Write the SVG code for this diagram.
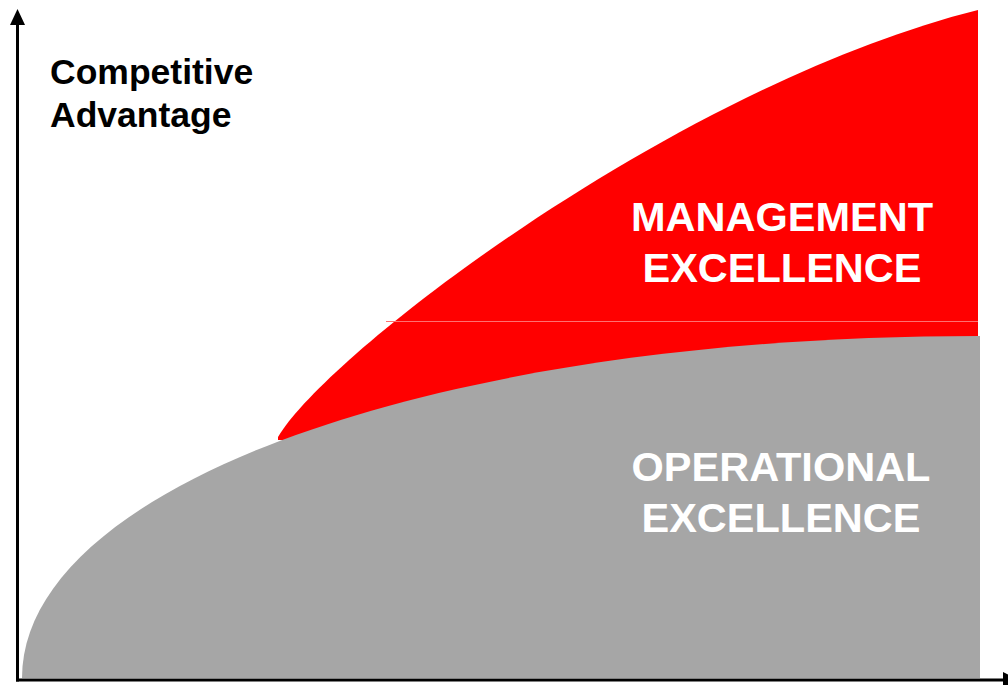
<svg xmlns="http://www.w3.org/2000/svg" width="1008" height="685" viewBox="0 0 1008 685">
<style>
.axis{stroke:#000;stroke-width:3;fill:none}
.lbl{font-family:"Liberation Sans",Arial,sans-serif;font-weight:bold}
.big{font-size:41.5px;fill:#fff;text-anchor:middle}
</style>
<rect width="1008" height="685" fill="#fff"/>
<g id="management">
<path d="M278,437 C328,352 678,85 978,10 L978,440 L278,440 Z" fill="#ff0000"/>
<line x1="386" y1="321.5" x2="978" y2="321.5" stroke="#ff7070" stroke-width="1"/>
<text class="lbl big" x="782" y="231">MANAGEMENT</text>
<text class="lbl big" x="782" y="282">EXCELLENCE</text>
</g>
<g id="operational">
<path d="M22,678 C22,487 430,336 980,336 L980,678 Z" fill="#a6a6a6"/>
<text class="lbl big" x="781" y="481">OPERATIONAL</text>
<text class="lbl big" x="781" y="532">EXCELLENCE</text>
</g>
<g id="axes">
<line class="axis" x1="17.5" y1="681.5" x2="17.5" y2="22"/>
<polygon points="17.5,9 10,25 25,25" fill="#000"/>
<line class="axis" x1="16" y1="680" x2="1006" y2="680"/>
<polygon points="1003,672 1003,688 1019,680" fill="#000"/>
</g>
<g id="ylabel">
<text class="lbl" x="50" y="84" font-size="35.5">Competitive</text>
<text class="lbl" x="50" y="127" font-size="35.5">Advantage</text>
</g>
</svg>
